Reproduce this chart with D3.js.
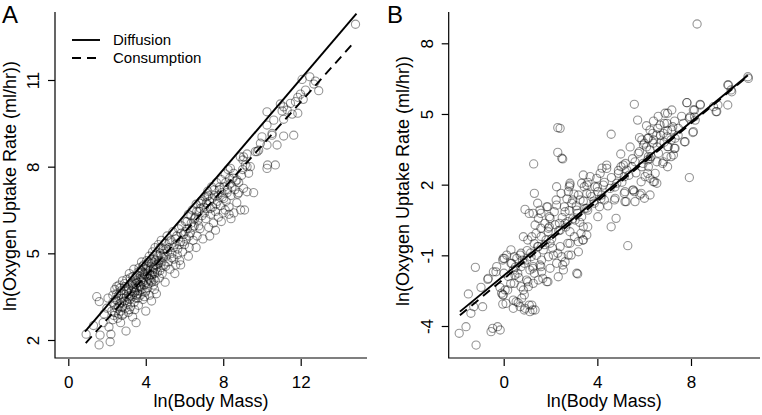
<!DOCTYPE html>
<html><head><meta charset="utf-8">
<script src="https://cdn.jsdelivr.net/npm/d3@7"></script>
<style>body{margin:0;background:#fff} text{font-family:"Liberation Sans",Arial,Helvetica,sans-serif;fill:#000}</style>
</head><body><svg id="c" width="762" height="415"></svg>
<script>
// Panel A: [ln(Body Mass), ln(Oxygen Uptake Rate)]
const pointsA = [
[0.92,2.2],[1.59,1.83],[1.64,2.17],[2.16,1.94],[2.98,2.31],[1.47,3.5],[1.6,3.33],[1.99,3.1],[1.3,2.5],[1.8,2.6],[2.2,2.2],[2.1,2.45],[1.85,2.9],[2.3,2.7],[2.05,3.45],[2.3,3.55],[2.5,3.6],[2.4,3.2],[2.6,2.9],[2.7,2.6],
[2.25,3.0],[2.3,3.3],[2.35,2.85],[2.4,3.75],[2.45,3.4],[2.5,3.1],[2.55,2.75],[2.6,3.55],[2.62,3.9],[2.65,3.25],[2.7,3.0],[2.72,3.7],[2.75,3.45],[2.8,3.15],[2.8,4.05],[2.85,2.9],[2.88,3.6],[2.9,3.35],[2.92,3.85],[2.95,3.1],
[3.0,3.5],[3.02,4.1],[3.05,3.25],[3.08,3.75],[3.1,2.95],[3.12,3.6],[3.15,4.3],[3.18,3.4],[3.2,3.9],[3.22,3.15],[3.25,3.7],[3.28,4.0],[3.3,3.5],[3.32,2.8],[3.35,3.85],[3.38,4.45],[3.4,3.3],[3.42,3.65],[3.45,4.15],[3.48,3.95],[3.5,3.45],[3.5,2.6],
[3.52,3.8],[3.55,4.25],[3.58,3.6],[3.6,4.0],[3.62,3.2],[3.65,4.5],[3.68,3.9],[3.7,4.2],[3.72,3.55],[3.75,4.05],[3.78,4.7],[3.8,3.75],[3.82,4.35],[3.85,3.4],[3.88,4.1],[3.9,4.6],[3.92,3.9],[3.95,4.25],[3.98,3.65],[4.0,4.45],[4.0,3.0],
[4.02,4.0],[4.05,4.75],[4.08,4.3],[4.1,3.8],[4.12,4.55],[4.15,4.15],[4.18,4.9],[4.2,3.55],[4.22,4.4],[4.25,4.05],[4.28,4.65],[4.3,3.35],[4.32,4.25],[4.35,5.05],[4.38,4.5],[4.4,3.9],[4.42,4.8],[4.45,4.3],[4.48,5.2],[4.5,4.05],
[4.52,4.6],[4.55,3.6],[4.58,4.95],[4.6,4.35],[4.65,5.3],[4.68,4.75],[4.7,4.15],[4.75,5.0],[4.78,4.5],[4.8,5.45],[4.85,4.3],[4.88,4.85],[4.9,5.15],[4.95,4.6],[5.0,5.35],[5.0,4.0],[5.05,4.9],[5.1,5.6],[5.15,4.7],[5.2,5.2],
[5.25,4.45],[5.3,5.45],[5.35,5.0],[5.4,5.75],[5.45,4.8],[5.5,5.3],[5.55,4.6],[5.6,5.6],[5.65,5.15],[5.7,5.85],[5.75,4.75],[5.8,5.4],[5.85,5.95],[5.9,5.05],[5.95,5.65],[6.0,5.3],[5.5,4.3],[5.8,4.6],
[6.05,6.1],[6.1,5.5],[6.15,5.85],[6.2,6.35],[6.25,5.2],[6.3,5.7],[6.35,6.05],[6.4,6.5],[6.45,5.45],[6.5,5.95],[6.55,6.25],[6.6,6.7],[6.65,5.6],[6.7,6.15],[6.75,6.45],[6.8,5.85],[6.85,6.8],[6.9,6.3],[6.95,5.5],[7.0,6.6],[6.2,4.9],[6.6,5.2],
[7.05,6.95],[7.1,6.2],[7.15,6.55],[7.2,7.15],[7.25,5.9],[7.3,6.8],[7.35,6.35],[7.4,7.3],[7.45,6.6],[7.5,6.05],[7.55,7.0],[7.6,6.45],[7.65,7.45],[7.7,6.8],[7.75,6.25],[7.8,7.2],[7.85,6.65],[7.9,7.55],[7.95,6.95],[8.0,6.4],[7.3,5.6],[7.6,5.8],
[8.05,7.3],[8.1,7.75],[8.15,6.8],[8.2,7.1],[8.25,7.9],[8.3,6.6],[8.35,7.4],[8.4,7.0],[8.5,7.6],[8.55,6.4],[8.6,7.2],[8.7,6.75],[8.8,7.45],[8.9,6.5],[9.0,7.9],[9.05,7.25],[9.1,6.5],[8.4,6.2],[8.3,6.35],[8.1,6.5],[7.9,6.1],
[2.55,3.35],[2.68,3.8],[2.78,2.85],[2.9,3.95],[3.03,3.3],[3.13,3.8],[3.23,3.55],[3.33,4.2],[3.43,3.05],[3.53,3.55],[3.63,3.85],[3.73,4.4],[3.83,4.0],[3.93,3.5],[4.03,4.6],[4.13,3.95],[4.23,4.25],[4.33,4.7],[4.43,4.1],[4.53,4.45],[4.63,4.9],[4.73,4.4],[4.83,4.7],[4.93,5.0],[5.03,4.55],[5.13,5.05],[5.23,5.4],[5.33,4.85],[5.43,5.2],[5.53,5.5],[5.63,4.95],[5.73,5.3],[5.83,5.7],[5.93,5.4],[6.03,5.75],[6.13,6.1],[6.23,5.6],[6.33,6.3],[6.43,5.9],[6.53,6.2],[6.63,6.45],[6.73,5.95],[6.83,6.55],[6.93,6.85],[7.03,6.4],[7.13,6.75],[7.23,7.0],[7.33,6.55],[7.43,6.9],[7.53,7.2],[7.63,6.7],[7.73,7.0],[7.83,7.3],[7.93,7.1],[8.03,6.9],[8.13,7.45],[8.23,7.2],[8.33,7.6],[8.45,7.3],[8.65,7.5],[8.75,7.05],[8.95,7.7],
[2.5,3.85],[2.75,3.3],[3.0,3.7],[3.2,4.15],[3.4,3.8],[3.6,4.35],[3.8,4.15],[4.0,3.7],[4.2,4.1],[4.4,4.45],[4.6,4.6],[4.8,4.9],[3.1,3.45],[3.3,3.95],[3.5,4.05],[3.7,3.7],[3.9,4.3],[4.1,4.4],[4.3,4.0],[4.5,4.75],[2.85,3.45],[3.15,3.05],[3.45,3.65],[3.75,3.85],[4.05,4.2],[4.35,4.35],[4.65,4.65],[2.4,2.95],[2.6,3.15],[3.6,3.45],[3.85,4.55],[4.15,4.7],[4.45,3.75],[4.75,5.2],[5.05,5.15],
[9.57,7.1],[9.23,7.13],[8.8,7.1],[9.02,8.23],[9.23,8.0],[8.88,8.34],[8.54,7.77],[8.71,7.54],[8.37,7.94],[7.16,6.96],[6.81,6.73],[9.83,8.57],[9.31,7.77],[9.4,8.0],[9.75,8.52],[9.92,8.81],
[14.83,12.93],[12.07,11.02],[12.47,11.11],[12.76,10.96],[12.68,10.86],[12.93,10.63],[12.25,10.65],[11.99,10.51],[11.85,10.4],[12.13,10.33],[11.73,10.25],[11.47,10.19],[10.95,10.17],[11.12,10.07],[11.3,9.96],[11.04,9.93],[11.56,9.82],[11.85,9.85],[10.26,9.9],[10.61,9.61],[11.12,9.64],[10.26,9.44],[10.52,9.09],[11.12,9.06],[11.64,9.09],[10.0,9.03],[10.26,8.75],[10.78,8.75],[9.66,8.52],[9.23,8.44],[10.29,8.06],[10.69,8.06],[10.26,7.94],[9.05,8.34],[9.14,8.06],[10.52,9.15]
];
// Panel B
const pointsB = [
[8.26,8.82],[10.43,6.58],[9.57,6.23],[9.71,6.02],[9.57,5.38],[9.07,5.1],[9.15,5.38],[7.83,5.48],[8.4,5.38],[8.15,5.17],[8.15,4.88],[7.93,4.82],[8.08,4.21],[7.72,3.82],[7.93,2.3],[5.58,5.41],[5.72,4.74],[4.59,4.14],[2.31,4.42],[2.31,3.37],[2.52,3.09],[1.28,2.88],[5.3,-0.59],[3.16,-1.79],[0.91,0.95],[-1.21,-1.51],[-1.51,-2.64],[-1.9,-4.31],[-1.61,-4.03],[-1.18,-4.81],[-1.4,-3.46],[-1.28,-3.18],[-0.97,-2.36],[-0.68,-2.02],[-0.9,-3.18],[-0.54,-4.24],[-0.47,-4.1],[-0.26,-4.03],[-0.15,-4.17],[-0.33,-1.7],[-0.04,-1.2],
[-0.66,-1.98],[-0.44,-1.7],[-0.3,-1.48],[-0.16,-2.36],[-0.09,-2.61],[-0.02,-2.68],[0.06,-2.47],[-0.04,-3.07],[0.01,-1.76],[0.34,-1.34],[0.41,-1.62],[0.48,-1.84],[0.41,-2.9],[0.41,-3.25],[0.62,-3.01],[0.7,-3.18],[0.77,-2.82],[0.91,-3.25],[1.12,-3.39],[1.34,-3.32],[1.2,-3.11],[0.84,-2.47],[1.05,-2.33],[1.26,-2.19],[1.48,-2.05],[1.84,-2.12],[0.98,-2.05],[0.56,-1.13],[0.7,-0.99],[0.98,-1.2],[1.26,-1.48],[1.55,-1.41],[1.62,-1.7],[1.98,-1.55],[2.26,-1.34],[2.55,-1.62],[2.62,-1.27],[2.48,-1.06],[2.76,-0.99],[3.12,-1.76],[2.41,-0.63],[2.83,-0.49],[3.19,-0.42],[3.4,-0.35],[-0.02,-1.13],[0.13,-0.99],[0.84,-0.21],[1.2,-0.21],[1.34,0.29],[1.26,0.78],[1.55,0.92],[1.84,1.06],[1.98,0.57],[2.26,1.13],[2.62,0.85],[2.91,1.21],[3.26,1.35],[3.55,1.63],[2.26,1.91],[2.83,1.98],[1.91,0.15],[1.48,-0.63],[1.69,-0.77],[1.98,-0.49],[2.12,-0.99],[1.62,-1.2],[1.12,-1.62],[1.48,0.57],[1.76,0.36],[2.62,0.36],[2.41,0.07],[2.83,0.0],[3.05,0.5],[3.33,0.64],[3.12,0.92],[3.47,0.99],[3.4,0.21],[3.55,-0.14],[3.19,-0.85],[2.33,-1.91],
[10.45,6.51],[9.6,6.23],[9.74,5.94],[9.1,5.1],[8.96,5.31],[8.39,5.41],[7.82,5.48],[8.1,5.17],[7.96,4.88],[8.18,4.74],[7.68,4.6],[7.46,4.39],[8.1,4.25],[7.75,3.82],[7.18,5.17],[6.89,5.03],[6.97,4.6],[6.68,4.53],[7.18,4.32],[7.32,3.97],[6.97,4.03],[6.82,4.18],[6.54,4.11],[6.68,3.76],[7.03,3.61],[7.32,3.54],[6.25,4.32],[6.18,3.97],[6.39,3.76],[5.9,3.9],[5.97,3.68],[6.25,3.47],[6.61,3.33],[6.97,3.19],[7.25,3.26],[6.82,2.97],[6.54,2.97],[6.18,3.19],[5.75,3.33],[5.61,2.97],[5.9,2.76],[6.18,2.76],[6.47,2.48],[6.25,2.27],[6.39,2.12],[6.04,2.34],[6.54,2.06],[5.47,2.76],[5.26,2.62],[5.11,2.83],[4.9,2.48],[4.4,2.83],[4.4,2.69],[4.12,2.48],[3.97,2.27],[3.69,2.34],[3.4,2.41],[3.33,2.06],[3.55,1.98],[3.9,1.91],[4.26,1.98],[4.54,1.84],[4.83,2.06],[5.18,1.7],[5.54,1.77],[5.82,1.56],[6.25,1.56],[2.83,2.06],[2.76,1.7],[3.19,1.56],[3.76,1.49],[4.19,1.56],[4.76,1.42],[5.18,1.28],[5.61,1.28],[2.48,3.12],[2.41,4.39],
[3.44,1.91],[4.02,1.7],[3.87,1.21],[4.3,1.35],[4.73,1.35],[4.8,0.57],[4.59,0.21],[3.59,0.21],[3.3,-0.07],[3.02,-0.21],[3.38,-0.35],[2.74,-0.49],[2.31,-0.91],[2.52,-1.41],[2.88,-0.99],[4.09,1.06],[3.59,0.92],[4.02,0.64],[5.23,1.28],[5.15,1.63],[5.58,1.7],[5.87,1.63],[6.01,1.42],[5.15,2.34],[5.01,2.76],[6.15,3.05],[6.01,3.76],[6.15,3.97],[6.37,4.18],[6.58,4.39],[6.86,4.6],[7.0,5.03],[7.22,4.46],[7.0,3.61],[7.29,3.54],[7.15,3.19],[7.0,2.76],[6.79,2.9],[6.29,3.19],[6.15,2.48],[6.44,2.12],[5.87,2.12],[5.51,1.77],
[1.31,1.63],[1.45,1.21],[1.09,0.78],[1.59,0.78],[1.88,1.06],[1.95,0.64],[2.24,1.35],[2.16,0.85],[2.45,1.63],[2.59,1.06],[2.8,1.91],[2.95,1.35],[3.16,0.78],[2.74,0.43],[2.38,0.36],[1.95,0.21],[1.59,0.15],[1.38,-0.07],[1.03,-0.35],[0.74,-0.91],[0.45,-1.06],[0.31,-1.34],[0.74,-1.48],[1.17,-1.06],[1.45,-0.63],[1.81,-0.35],[2.09,-0.7],[1.91,-1.06],[1.59,-1.48],[1.31,-1.76],[1.67,-1.98],[1.89,-2.12],[1.03,-2.12],[0.74,-2.33],[0.45,-2.19],[0.17,-2.47],[0.88,-2.68],[0.53,-2.97],[0.1,-3.04],[-0.04,-2.68],[0.88,-3.32],[1.24,-3.32],[1.09,-3.11],[0.03,-1.13],[0.31,-0.77],[0.88,-1.34],[0.6,-1.76],[1.24,-1.55],
[0.2,-1.9],[0.5,-1.5],[0.8,-1.2],[1.0,-0.8],[1.3,-0.5],[1.6,-0.2],[1.9,0.0],[2.2,0.3],[2.5,0.6],[2.8,0.9],[3.1,1.1],[3.4,1.3],[3.7,1.6],[4.0,1.9],[4.3,2.1],[4.6,2.3],[4.9,2.6],[5.2,2.9],[5.5,3.1],[5.8,3.4],[6.1,3.6],[6.4,3.9],[6.7,4.1],[7.0,4.3],[7.3,4.7],[7.6,4.9],[0.3,-2.2],[0.65,-1.95],[1.15,-0.9],[1.4,-1.0],[1.75,-0.55],[2.05,-0.3],[2.35,0.05],[2.65,0.2],[2.95,0.55],[3.25,0.4],[3.55,1.0],[3.85,1.3],[4.15,1.4],[4.45,1.1],[4.75,1.9],[5.05,2.1],[5.35,2.4],[5.65,2.5],[5.95,2.9],[6.25,3.1],[6.55,3.6],[6.85,3.8],[7.15,3.9],[7.45,4.1],[4.2,2.7],[3.6,2.1],[3.0,1.6],[2.7,1.4],[5.0,3.3],[5.4,3.6],[5.8,4.0],[6.1,4.5],[6.4,4.7],[6.6,4.9]
];
const ticksAx = [0, 4, 8, 12], ticksAy = [2, 5, 8, 11];
const ticksBx = [0, 4, 8], ticksBy = [-4, -1, 2, 5, 8];
const legendNames = ["Diffusion", "Consumption"];
// fitted lines: x-range, intercept, slope
const fitA = [
  {name: "Diffusion", x0: 0.86, x1: 14.88, a: 1.615, b: 0.785},
  {name: "Consumption", x0: 0.9, x1: 14.71, a: 1.213, b: 0.752}
];
const fitB = [
  {name: "Diffusion", x0: -1.87, x1: 10.43, a: -1.864, b: 0.816},
  {name: "Consumption", x0: -1.87, x1: 10.43, a: -2.0, b: 0.825}
];
const DASH = "9,6";

const svg = d3.select("#c");
const fmt = d => String(d);

function panel(cfg) {
  const g = svg.append("g");
  const x = d3.scaleLinear().domain(cfg.xd).range(cfg.xr);
  const y = d3.scaleLinear().domain(cfg.yd).range(cfg.yr);
  g.append("path")
    .attr("d", `M${cfg.left},${cfg.top}V${cfg.bottom}H${cfg.right}`)
    .attr("fill", "none").attr("stroke", "#000").attr("stroke-width", 1.2);
  const gx = g.append("g").attr("transform", `translate(0,${cfg.bottom + 1})`)
    .call(d3.axisBottom(x).tickValues(cfg.tx).tickSize(7).tickPadding(10).tickFormat(fmt));
  gx.select(".domain").remove();
  gx.selectAll("line").attr("stroke-width", 1.2);
  gx.selectAll("text").style("font-size", "17px").style("font-family", "Liberation Sans, Arial, sans-serif");
  const gy = g.append("g").attr("transform", `translate(${cfg.left},0)`)
    .call(d3.axisLeft(y).tickValues(cfg.ty).tickSize(7).tickFormat(fmt));
  gy.select(".domain").remove();
  gy.selectAll("line").attr("stroke-width", 1.2);
  gy.selectAll("text")
    .attr("transform", "rotate(-90)")
    .attr("x", 0).attr("y", -22).attr("dy", "0.35em")
    .attr("text-anchor", "middle")
    .style("font-size", "17px").style("font-family", "Liberation Sans, Arial, sans-serif");
  g.append("text").attr("x", (cfg.left + cfg.right) / 2).attr("y", 407)
    .attr("text-anchor", "middle").style("font-size", "18px").text("ln(Body Mass)");
  g.append("text").attr("transform", `translate(${cfg.left - 39.5},${cfg.ytc}) rotate(-90)`)
    .attr("text-anchor", "middle").style("font-size", "18px").text("ln(Oxygen Uptake Rate (ml/hr))");
  g.append("text").attr("x", cfg.lx).attr("y", 23).style("font-size", "24px").text(cfg.label);
  g.append("g").selectAll("circle").data(cfg.pts).join("circle")
    .attr("cx", d => x(d[0])).attr("cy", d => y(d[1])).attr("r", 4.1)
    .attr("fill", "none").attr("stroke", "#000").attr("stroke-opacity", 0.42).attr("stroke-width", 1.1);
  cfg.fits.forEach((f, i) => {
    g.append("line")
      .attr("x1", x(f.x0)).attr("y1", y(f.a + f.b * f.x0))
      .attr("x2", x(f.x1)).attr("y2", y(f.a + f.b * f.x1))
      .attr("stroke", "#000").attr("stroke-width", 1.9)
      .attr("stroke-dasharray", i === 1 ? DASH : null);
  });
  return {g, x, y};
}

const A = panel({xd: [0, 12], xr: [68.3, 300.7], yd: [2, 11], yr: [340, 80],
  left: 55, right: 367, top: 12, bottom: 358, tx: ticksAx, ty: ticksAy,
  pts: pointsA, fits: fitA, label: "A", lx: 2, ytc: 186});
const B = panel({xd: [0, 8], xr: [503.7, 691], yd: [-4, 8], yr: [326, 43.3],
  left: 448.7, right: 760, top: 12, bottom: 358, tx: ticksBx, ty: ticksBy,
  pts: pointsB, fits: fitB, label: "B", lx: 387, ytc: 181});

const lg = A.g.append("g");
legendNames.forEach((n, i) => {
  const yy = 40 + i * 18;
  lg.append("line").attr("x1", 72).attr("x2", 100).attr("y1", yy).attr("y2", yy)
    .attr("stroke", "#000").attr("stroke-width", 1.9).attr("stroke-dasharray", i === 1 ? DASH : null);
  lg.append("text").attr("x", 113).attr("y", yy).attr("dy", "0.35em").style("font-size", "15px").text(n);
});
</script></body></html>
